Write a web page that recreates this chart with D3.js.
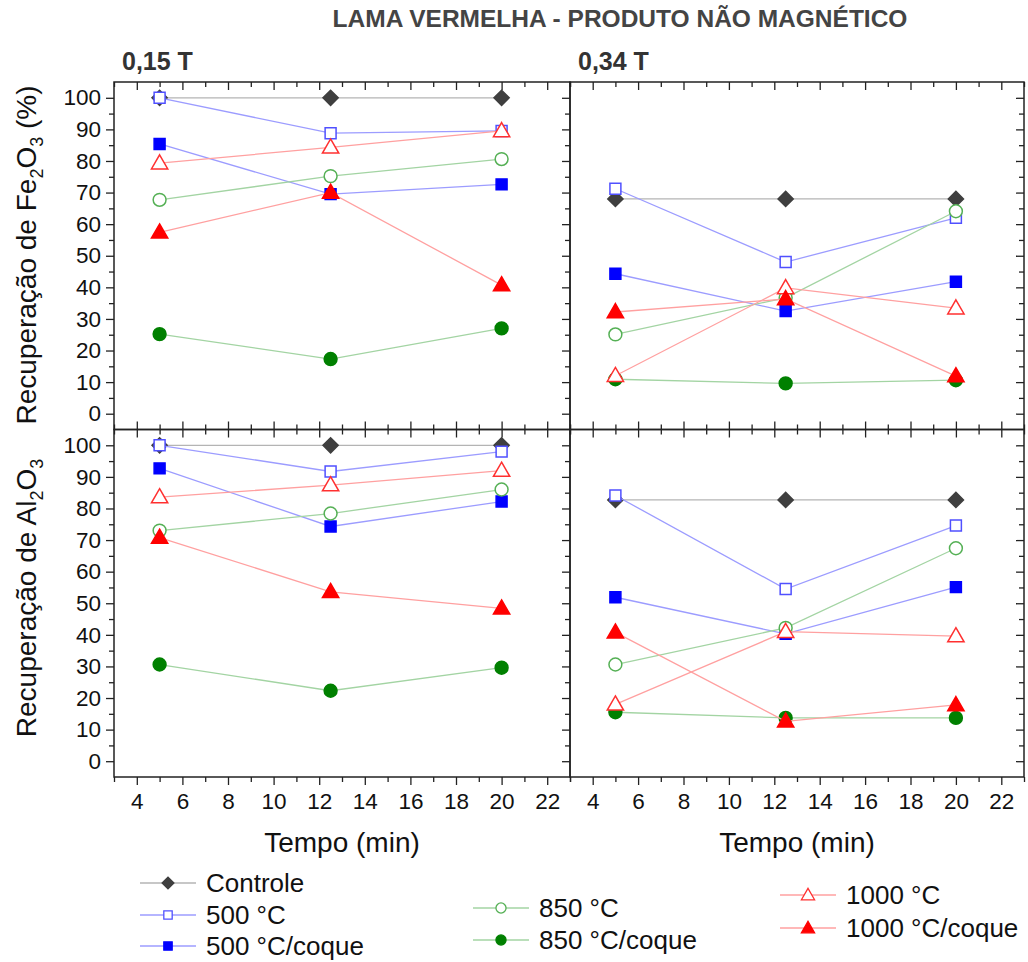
<!DOCTYPE html>
<html>
<head>
<meta charset="utf-8">
<script src="https://cdn.jsdelivr.net/npm/d3@7"></script>
<style>
  html, body { margin: 0; padding: 0; background: #fff; }
  svg { display: block; font-family: "Liberation Sans", Arial, sans-serif; }
</style>
</head>
<body>
<svg id="chart" width="1028" height="962"></svg>
<script>
// Recovery of Fe2O3 / Al2O3 in the non-magnetic product, by time, field and treatment
const times = [5, 12.5, 20];
const seriesNames = ["Controle", "500 °C", "500 °C/coque", "850 °C", "850 °C/coque", "1000 °C", "1000 °C/coque"];

// Fe2O3 recovery (%), 0,15 T
const fe015 = [
  [100, 100, 100],
  [100, 88.8, 89.5],
  [85.4, 69.5, 72.6],
  [67.7, 75.2, 80.6],
  [25.2, 17.3, 27.0],
  [79.3, 84.3, 89.5],
  [57.4, 70.0, 40.7]
];
// Fe2O3 recovery (%), 0,34 T
const fe034 = [
  [68.0, 68.0, 68.0],
  [71.2, 48.0, 62.0],
  [44.3, 32.5, 41.8],
  [25.1, 36.7, 64.1],
  [10.9, 9.6, 10.6],
  [12.0, 39.8, 33.4],
  [32.2, 36.3, 11.9]
];
// Al2O3 recovery (%), 0,15 T
const al015 = [
  [100, 100, 100],
  [100, 91.7, 98.0],
  [92.7, 74.3, 82.2],
  [73.0, 78.4, 86.0],
  [30.6, 22.3, 29.6],
  [83.6, 87.4, 92.0],
  [70.8, 53.6, 48.4]
];
// Al2O3 recovery (%), 0,34 T
const al034 = [
  [82.7, 82.7, 82.7],
  [84.1, 54.5, 74.6],
  [51.9, 40.3, 55.1],
  [30.6, 42.2, 67.4],
  [15.5, 13.7, 13.7],
  [18.0, 41.0, 39.6],
  [40.8, 12.6, 17.8]
];

const xMajor = [4, 6, 8, 10, 12, 14, 16, 18, 20, 22];
const xMinor = [3, 5, 7, 9, 11, 13, 15, 17, 19, 21, 23];
const yMajor = [0, 10, 20, 30, 40, 50, 60, 70, 80, 90, 100];
const yMinor = [5, 15, 25, 35, 45, 55, 65, 75, 85, 95];

// marker style per series: shape, fill, stroke; connecting line colour
const styles = [
  { shape: "diamond",  fill: "#3f3f3f", stroke: "#3f3f3f", line: "#b4b4b4" },
  { shape: "square",   fill: "#ffffff", stroke: "#5050ff", line: "#9c9cff" },
  { shape: "square",   fill: "#0000ff", stroke: "#0000ff", line: "#9c9cff" },
  { shape: "circle",   fill: "#ffffff", stroke: "#55b055", line: "#a3d4a3" },
  { shape: "circle",   fill: "#008000", stroke: "#008000", line: "#a3d4a3" },
  { shape: "triangle", fill: "#ffffff", stroke: "#ff3030", line: "#ffa0a0" },
  { shape: "triangle", fill: "#ff0000", stroke: "#ff0000", line: "#ffa0a0" }
];

const svg = d3.select("#chart");

const xL = d3.scaleLinear().domain([3, 23]).range([114, 570]);
const xR = d3.scaleLinear().domain([3, 23]).range([570, 1024]);
const yT = d3.scaleLinear().domain([-5, 105]).range([429.5, 82]);
const yB = d3.scaleLinear().domain([-5, 105]).range([777, 429.5]);

const panels = [
  { x: xL, y: yT, data: fe015 },
  { x: xR, y: yT, data: fe034 },
  { x: xL, y: yB, data: al015 },
  { x: xR, y: yB, data: al034 }
];

// diamond = square turned by 45°, so width equals height
function symbolPath(shape, size) {
  const t = { diamond: d3.symbolSquare, square: d3.symbolSquare, circle: d3.symbolCircle, triangle: d3.symbolTriangle }[shape];
  return d3.symbol().type(t).size(size)();
}
function symbolRotate(shape) { return shape === "diamond" ? " rotate(45)" : ""; }
const sizes = { diamond: 115, square: 120, circle: 130, triangle: 115 };

// axes: ticks through d3 axis generators, domain path hidden and frame drawn separately
function drawAxis(gen, transform, values, size, labels) {
  const g = svg.append("g").attr("transform", transform)
    .call(gen.tickValues(values).tickSize(size).tickSizeOuter(0).tickFormat(labels ? d3.format("d") : ""));
  g.select(".domain").remove();
  g.selectAll(".tick line").attr("stroke", "#222").attr("stroke-width", 1.3);
  g.selectAll(".tick text").attr("font-size", 22.5).attr("fill", "#111");
  return g;
}
const MAJ = 8, MIN = 5;

panels.forEach((p, i) => {
  const [x0, x1] = p.x.range();
  const [y0, y1] = [p.y.range()[1], p.y.range()[0]];
  const isLeft = i % 2 === 0;
  const isBottom = i >= 2;

  // left y axis
  if (isLeft) {
    drawAxis(d3.axisLeft(p.y), `translate(${x0},0)`, yMajor, MAJ, true)
      .selectAll(".tick text").attr("x", -13);
    drawAxis(d3.axisLeft(p.y), `translate(${x0},0)`, yMinor, MIN, false);
  } else {
    drawAxis(d3.axisLeft(p.y), `translate(${x0},0)`, yMajor, MAJ, false);
    drawAxis(d3.axisLeft(p.y), `translate(${x0},0)`, yMinor, MIN, false);
    // right frame ticks point inward
    drawAxis(d3.axisLeft(p.y), `translate(${x1},0)`, yMajor, MAJ, false);
    drawAxis(d3.axisLeft(p.y), `translate(${x1},0)`, yMinor, MIN, false);
  }

  if (isBottom) {
    const g = drawAxis(d3.axisBottom(p.x), `translate(0,${y1})`, xMajor, MAJ, true);
    g.selectAll(".tick text").attr("y", 16);
    drawAxis(d3.axisBottom(p.x), `translate(0,${y1})`, xMinor, MIN, false);
    // top of lower panels: ticks cross the shared border
    drawAxis(d3.axisTop(p.x), `translate(0,${y0})`, xMajor, MAJ, false);
    drawAxis(d3.axisTop(p.x), `translate(0,${y0})`, xMinor, MIN, false);
    drawAxis(d3.axisBottom(p.x), `translate(0,${y0})`, xMajor, MAJ, false);
    drawAxis(d3.axisBottom(p.x), `translate(0,${y0})`, xMinor, MIN, false);
  } else {
    // top frame: inward ticks
    drawAxis(d3.axisBottom(p.x), `translate(0,${y0})`, xMajor, MAJ, false);
    drawAxis(d3.axisBottom(p.x), `translate(0,${y0})`, xMinor, MIN, false);
  }

  svg.append("rect")
    .attr("x", x0).attr("y", y0)
    .attr("width", x1 - x0).attr("height", y1 - y0)
    .attr("fill", "none").attr("stroke", "#222").attr("stroke-width", 1.5);

  const line = d3.line().x((d, k) => p.x(times[k])).y(d => p.y(d));
  p.data.forEach((vals, s) => {
    const st = styles[s];
    const g = svg.append("g");
    g.append("path").attr("d", line(vals))
      .attr("fill", "none").attr("stroke", st.line).attr("stroke-width", 1.3);
    g.selectAll("path.m").data(vals).join("path").attr("class", "m")
      .attr("d", symbolPath(st.shape, sizes[st.shape]))
      .attr("transform", (d, k) => `translate(${p.x(times[k])},${p.y(d) + (st.shape === "triangle" ? 1 : 0)})${symbolRotate(st.shape)}`)
      .attr("fill", st.fill).attr("stroke", st.stroke).attr("stroke-width", 1.5);
  });
});

// titles
svg.append("text").attr("x", 620).attr("y", 27).attr("text-anchor", "middle")
  .attr("font-size", 24.5).attr("font-weight", "bold").attr("fill", "#444")
  .text("LAMA VERMELHA - PRODUTO NÃO MAGNÉTICO");
svg.append("text").attr("x", 122).attr("y", 70).attr("font-size", 25).attr("font-weight", "bold").attr("fill", "#333").text("0,15 T");
svg.append("text").attr("x", 578).attr("y", 70).attr("font-size", 25).attr("font-weight", "bold").attr("fill", "#333").text("0,34 T");

function yTitle(cy, base, sub1, mid, sub2, tail) {
  const t = svg.append("text").attr("transform", `translate(36,${cy}) rotate(-90)`)
    .attr("text-anchor", "middle").attr("font-size", 28).attr("fill", "#111");
  t.append("tspan").text(base);
  t.append("tspan").attr("font-size", 18).attr("dy", 7).text(sub1);
  t.append("tspan").attr("dy", -7).text(mid);
  t.append("tspan").attr("font-size", 18).attr("dy", 7).text(sub2);
  t.append("tspan").attr("dy", -7).text(tail);
}
yTitle(255, "Recuperação de Fe", "2", "O", "3", " (%)");
yTitle(598, "Recuperação de Al", "2", "O", "3", "");

svg.append("text").attr("x", xL(13)).attr("y", 852).attr("text-anchor", "middle").attr("font-size", 28).attr("fill", "#111").text("Tempo (min)");
svg.append("text").attr("x", xR(13)).attr("y", 852).attr("text-anchor", "middle").attr("font-size", 28).attr("fill", "#111").text("Tempo (min)");

// legend
const legendPos = [
  [140, 883], [140, 915], [140, 946],
  [473, 908], [473, 940],
  [780, 895], [780, 928]
];
const legendSizes = { diamond: 70, square: 70, circle: 80, triangle: 75 };
seriesNames.forEach((name, s) => {
  const st = styles[s];
  const [lx, ly] = legendPos[s];
  const g = svg.append("g").attr("transform", `translate(${lx},${ly})`);
  g.append("line").attr("x1", 0).attr("x2", 56).attr("y1", 0).attr("y2", 0)
    .attr("stroke", st.line).attr("stroke-width", 1.5);
  g.append("path").attr("d", symbolPath(st.shape, legendSizes[st.shape]))
    .attr("transform", `translate(28,${st.shape === "triangle" ? 1 : 0})${symbolRotate(st.shape)}`)
    .attr("fill", st.fill).attr("stroke", st.stroke).attr("stroke-width", 1.3);
  g.append("text").attr("x", 66).attr("y", 0).attr("dy", "0.35em")
    .attr("font-size", 26).attr("fill", "#111").text(name);
});
</script>
</body>
</html>
